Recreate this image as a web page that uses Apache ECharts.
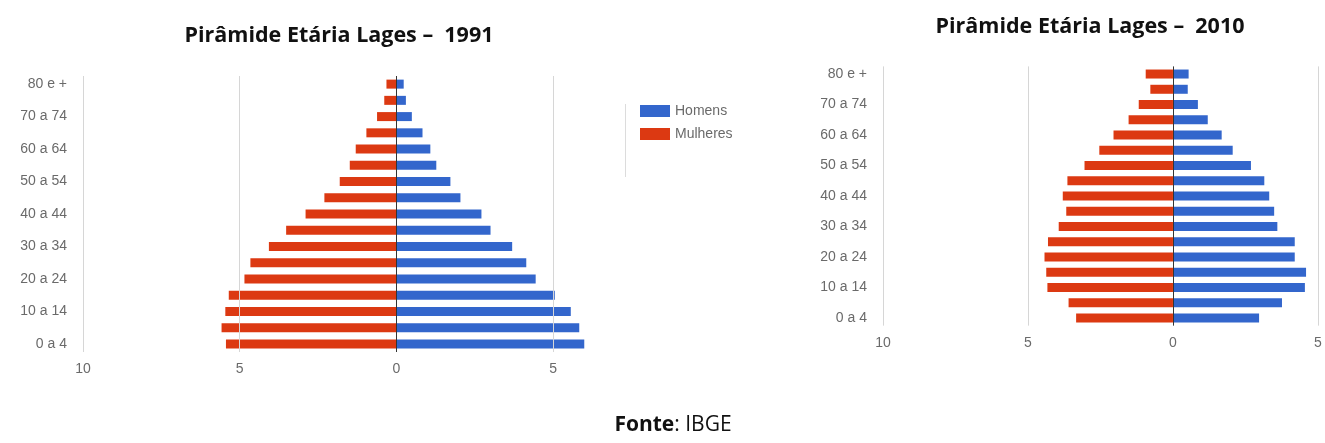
<!DOCTYPE html>
<html><head><meta charset="utf-8">
<script src="https://cdn.jsdelivr.net/npm/echarts@6/dist/echarts.min.js"></script>
<style>html,body{margin:0;padding:0;background:#fff}#c{width:1325px;height:443px}</style>
</head><body><div id="c"></div>
<script>
const ages = ['0 a 4','5 a 9','10 a 14','15 a 19','20 a 24','25 a 29','30 a 34','35 a 39','40 a 44','45 a 49','50 a 54','55 a 59','60 a 64','65 a 69','70 a 74','75 a 79','80 e +'];
const men1991 = [5.99,5.83,5.56,5.05,4.44,4.14,3.69,3.00,2.71,2.04,1.72,1.27,1.08,0.83,0.49,0.30,0.23];
const women1991 = [5.44,5.58,5.46,5.35,4.85,4.66,4.07,3.52,2.90,2.30,1.81,1.49,1.30,0.96,0.62,0.39,0.32];
const men2010 = [2.97,3.76,4.55,4.59,4.20,4.20,3.60,3.49,3.32,3.15,2.69,2.06,1.68,1.20,0.86,0.51,0.54];
const women2010 = [3.34,3.60,4.33,4.37,4.43,4.31,3.94,3.68,3.80,3.64,3.05,2.54,2.05,1.53,1.18,0.78,0.94];
const gridTicks = [-10,-5,5];
const title1 = 'Pirâmide Etária Lages –  1991';
const title2 = 'Pirâmide Etária Lages –  2010';

const BLUE = '#3366cc', RED = '#dc3912';
const chart = echarts.init(document.getElementById('c'));
function xAxis(gi, max) {
  return {
    type: 'value', gridIndex: gi, min: -10, max: max, interval: 5,
    axisLine: {show: false}, axisTick: {show: false}, splitLine: {show: false},
    axisLabel: {
      margin: 10, fontFamily: 'Liberation Sans', fontSize: 14, color: '#6a6a6a',
      formatter: v => (Math.abs(v % 5) < 1e-9 ? String(Math.abs(v)) : '')
    }
  };
}
function yAxis(gi) {
  return {
    type: 'category', gridIndex: gi, data: ages,
    axisLine: {show: false, onZero: false}, axisTick: {show: false},
    axisLabel: {interval: 1, margin: 16, fontFamily: 'Liberation Sans', fontSize: 14, color: '#6a6a6a'}
  };
}
function markLines() {
  return {
    silent: true, symbol: 'none', animation: false,
    label: {show: false},
    data: gridTicks.map(v => ({xAxis: v, lineStyle: {color: '#d6d6d6', width: 1, type: 'solid'}}))
      .concat([{xAxis: 0, lineStyle: {color: '#333', width: 1, type: 'solid'}}])
  };
}
function series(gi, men, women) {
  return [
    {name: 'Homens', type: 'bar', xAxisIndex: gi, yAxisIndex: gi, stack: 's' + gi, data: men,
     barWidth: 9, itemStyle: {color: BLUE}, markLine: markLines()},
    {name: 'Mulheres', type: 'bar', xAxisIndex: gi, yAxisIndex: gi, stack: 's' + gi,
     data: women.map(v => -v), barWidth: 9, itemStyle: {color: RED}}
  ];
}
chart.setOption({
  animation: false,
  grid: [
    {left: 83, top: 76, width: 548.6, height: 276},
    {left: 883, top: 66.4, width: 442, height: 259.25}
  ],
  xAxis: [xAxis(0, 7.5), xAxis(1, 5.14)],
  yAxis: [yAxis(0), yAxis(1)],
  legend: {
    data: ['Homens', 'Mulheres'], orient: 'vertical', left: 640, top: 104, padding: 0,
    icon: 'rect', itemWidth: 30, itemHeight: 12, itemGap: 9,
    textStyle: {fontFamily: 'Liberation Sans', fontSize: 14, color: '#6a6a6a'}
  },
  series: series(0, men1991, women1991).concat(series(1, men2010, women2010)),
  graphic: [
    {type: 'line', shape: {x1: 625.5, y1: 104, x2: 625.5, y2: 177}, style: {stroke: '#dcdcdc', lineWidth: 1}, silent: true},
    {type: 'text', x: 339, y: 36, style: {text: title1, font: 'bold 21.5px "Open Sans"', fill: '#111', align: 'center', verticalAlign: 'middle'}},
    {type: 'text', x: 1090, y: 27, style: {text: title2, font: 'bold 21.5px "Open Sans"', fill: '#111', align: 'center', verticalAlign: 'middle'}},
    {type: 'text', x: 673, y: 425, style: {
      text: '{b|Fonte}{r|: IBGE}', align: 'center', verticalAlign: 'middle',
      rich: {b: {fontFamily: 'Open Sans', fontWeight: 'bold', fontSize: 21, fill: '#111', color: '#111'},
             r: {fontFamily: 'Open Sans', fontSize: 21, fill: '#111', color: '#111'}}
    }}
  ]
});
</script></body></html>
